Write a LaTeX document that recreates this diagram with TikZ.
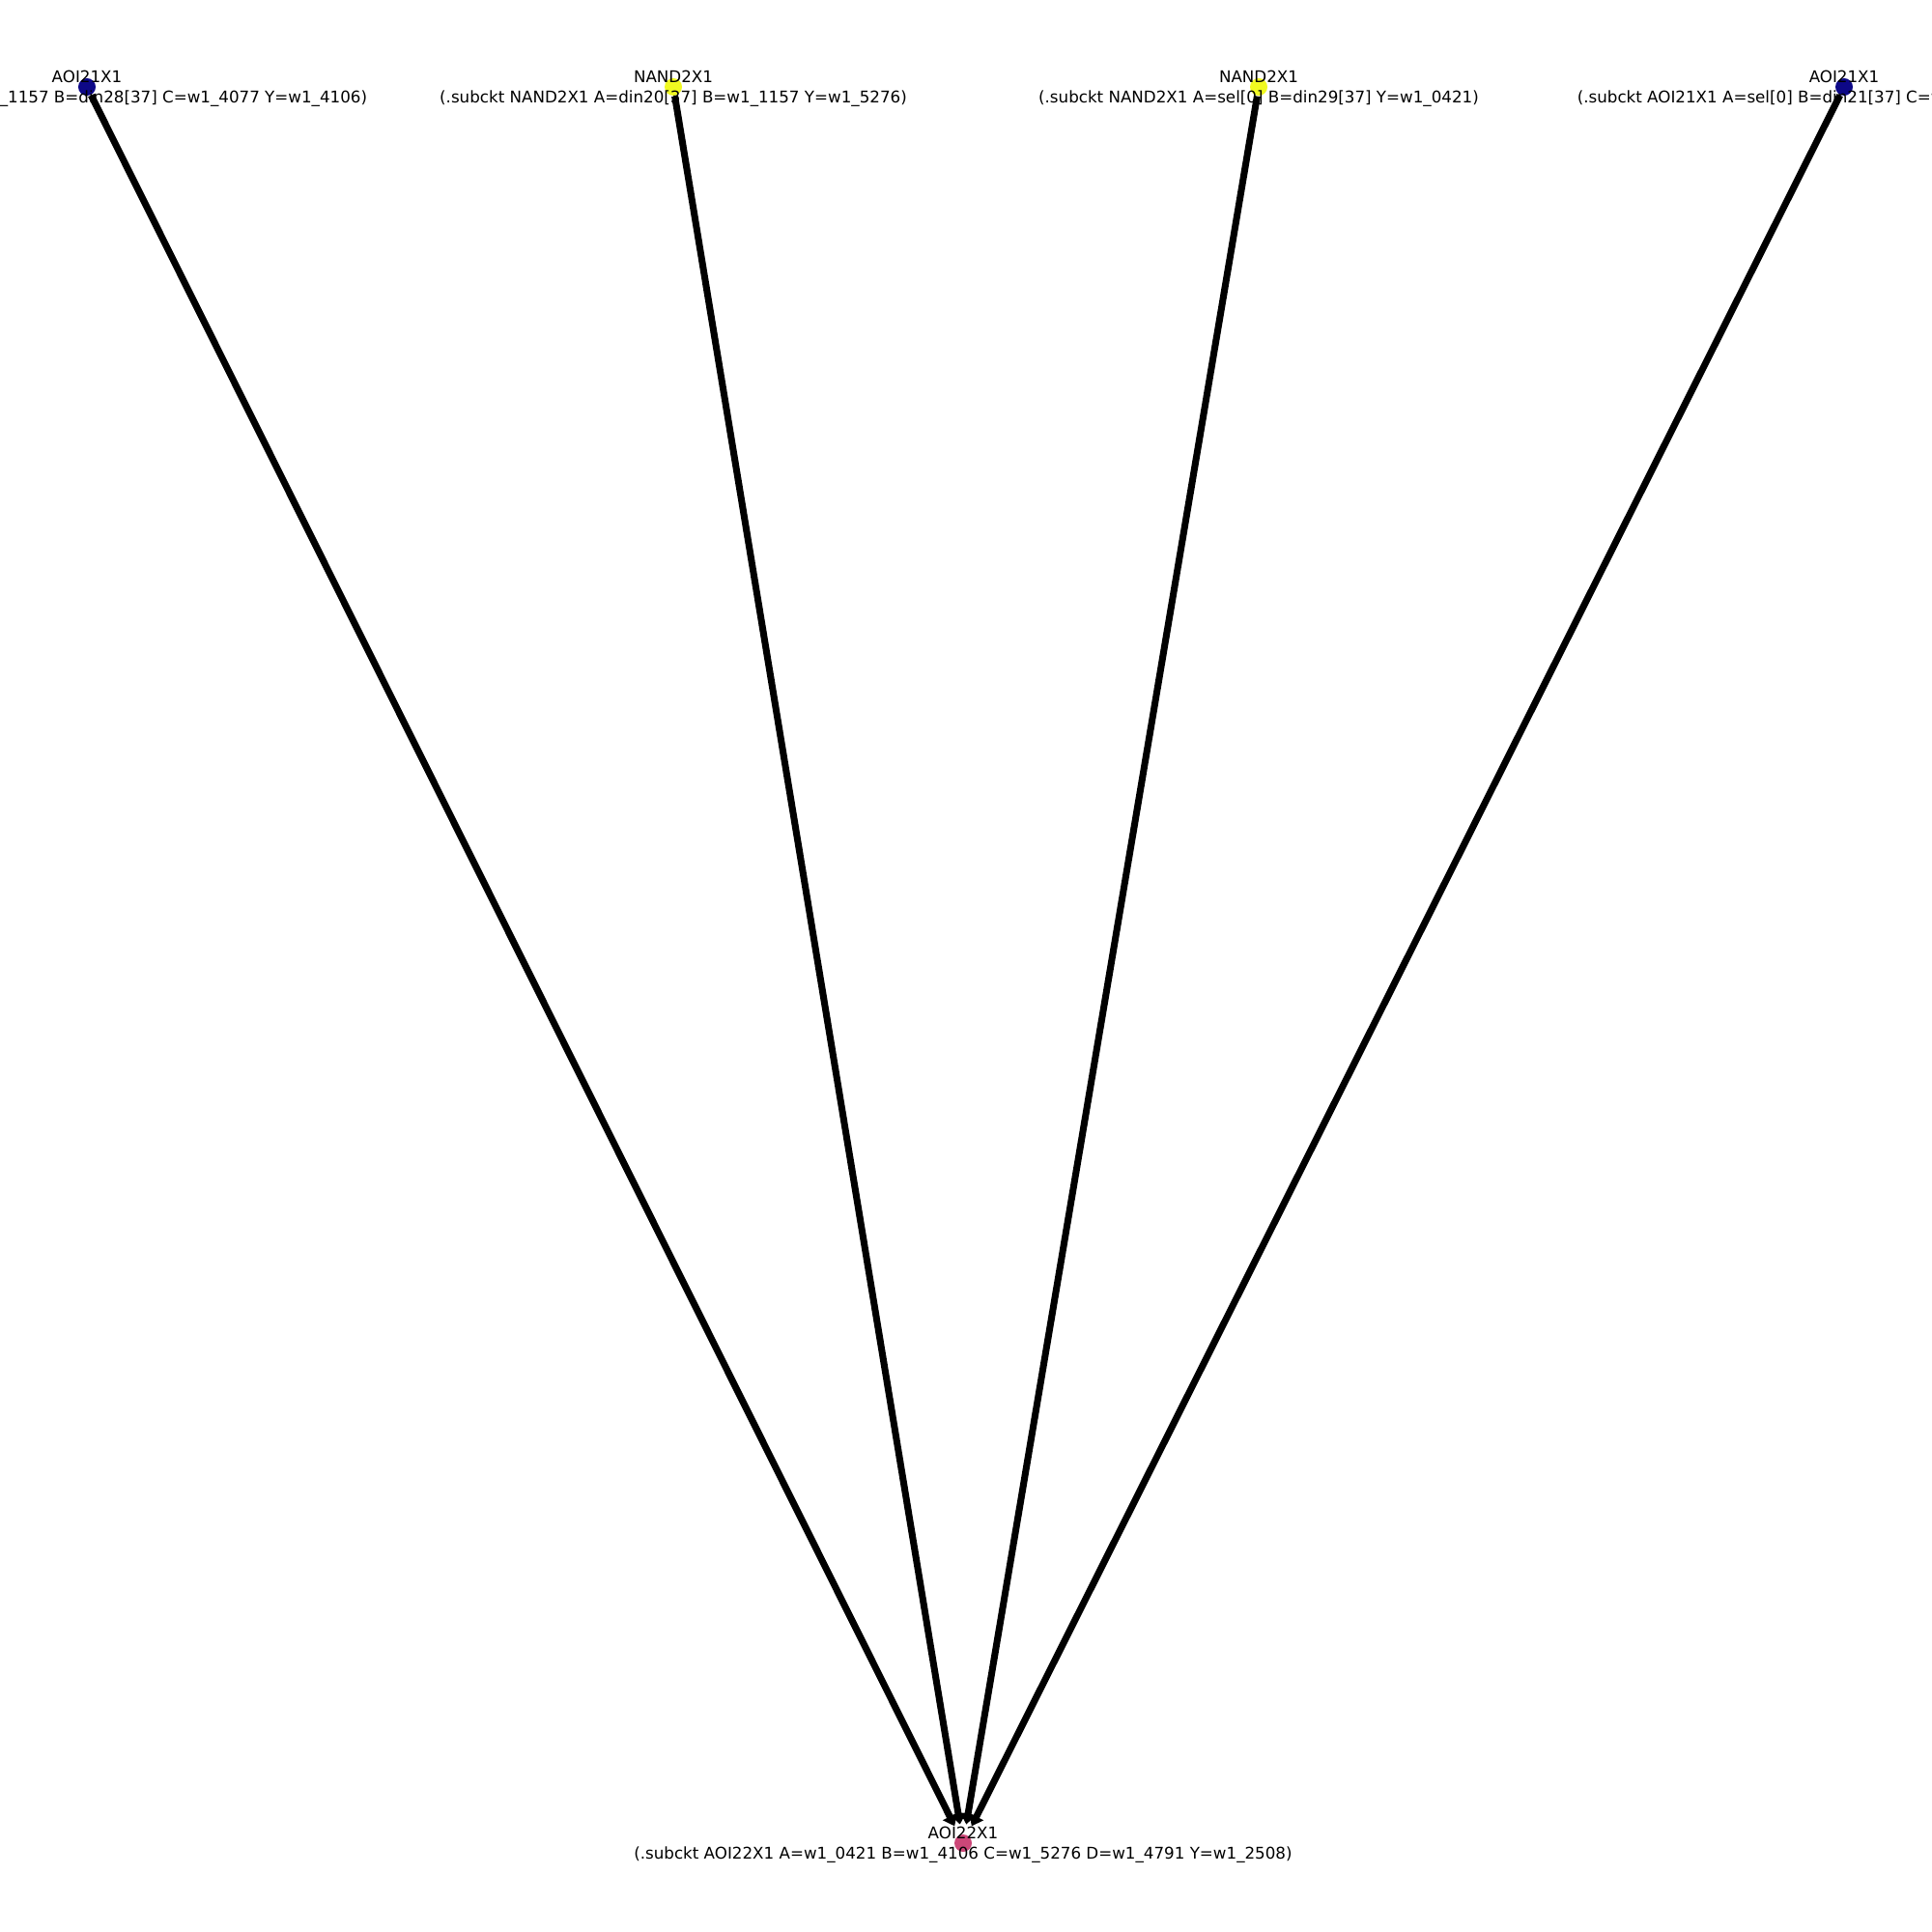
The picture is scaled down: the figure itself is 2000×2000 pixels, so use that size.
\documentclass[tikz,border=0pt]{standalone}
\usepackage{fontspec}
\setmainfont{DejaVu Sans}
\usetikzlibrary{arrows.meta,positioning}
\definecolor{plasmablue}{HTML}{0D0887}
\definecolor{plasmayellow}{HTML}{F0F921}
\definecolor{plasmapink}{HTML}{CC4778}
\tikzset{
  gate/.style={circle,fill=#1,inner sep=0pt,minimum size=1.8mm},
  lbl/.style={align=center,inner sep=0pt,font=\fontsize{4.75}{6}\selectfont},
  wire/.style={-{Triangle[length=1.1mm,width=1.6mm]},line width=0.7mm,shorten >=1.0mm},
}

\begin{document}
\begin{tikzpicture}[x=0.01cm,y=-0.01cm]
  \useasboundingbox (0,0) rectangle (2000,2000);
  \clip (0,0) rectangle (2000,2000);
  % gates
  \node[gate=plasmablue] (aoia) at (90,90) {};
  \node[gate=plasmayellow] (nanda) at (697,90) {};
  \node[gate=plasmayellow] (nandb) at (1303,90) {};
  \node[gate=plasmablue] (aoib) at (1909,90) {};
  \node[gate=plasmapink] (aoiout) at (997,1908) {};
  % nets
  \draw[wire] (aoia) -- (aoiout);
  \draw[wire] (nanda) -- (aoiout);
  \draw[wire] (nandb) -- (aoiout);
  \draw[wire] (aoib) -- (aoiout);
  % labels
  \node[lbl] (aoialbl) at (90,91.5) {AOI21X1\\(.subckt AOI21X1 A=w1\_1157 B=din28[37] C=w1\_4077 Y=w1\_4106)};
  \node[lbl] (nandalbl) at (697,91.5) {NAND2X1\\(.subckt NAND2X1 A=din20[37] B=w1\_1157 Y=w1\_5276)};
  \node[lbl] (nandblbl) at (1303,91.5) {NAND2X1\\(.subckt NAND2X1 A=sel[0] B=din29[37] Y=w1\_0421)};
  \node[lbl] (aoiblbl) at (1909,91.5) {AOI21X1\\(.subckt AOI21X1 A=sel[0] B=din21[37] C=w1\_4791 Y=w1\_4791)};
  \node[lbl] (aoioutlbl) at (997,1909.5) {AOI22X1\\(.subckt AOI22X1 A=w1\_0421 B=w1\_4106 C=w1\_5276 D=w1\_4791 Y=w1\_2508)};
\end{tikzpicture}
\end{document}
